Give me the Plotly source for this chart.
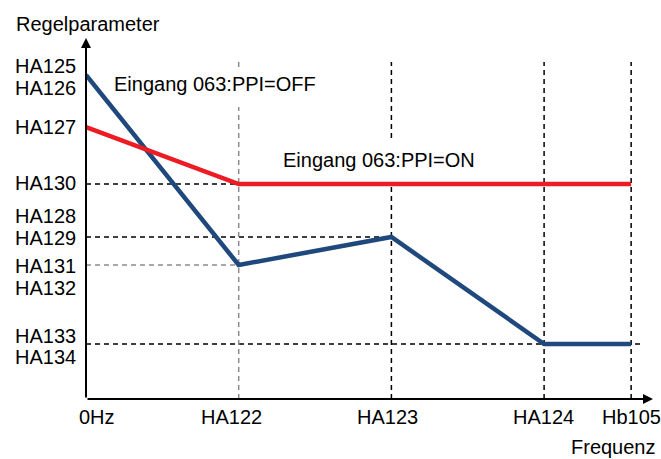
import plotly.graph_objects as go

# Frequency axis: tick names and their positions (in units of the HA122 step)
x_ticks = ["0Hz", "HA122", "HA123", "HA124", "Hb105"]
x_pos = [0, 1, 2, 3, 3.57]

# Control parameter levels (arbitrary units)
y_labels = ["HA125", "HA126", "HA127", "HA130", "HA128", "HA129",
            "HA131", "HA132", "HA133", "HA134"]
y_levels = [324, 324, 272, 215, 162, 162, 134, 134, 55, 55]

# Curve for input 063:PPI=OFF
off_x = [0, 1, 2, 3, 3.57]
off_y = [324, 134, 162, 55, 55]

# Curve for input 063:PPI=ON
on_x = [0, 1, 3.57]
on_y = [272, 215, 215]

BLUE = "#1F497D"
RED = "#ED1C24"
GRAY = "#8C8C8C"
FONT = "Liberation Sans, Arial, sans-serif"

W, H = 661, 459
ML, MB = 86, 60
PX_PER_X = 152.7
x_max = (W - ML) / PX_PER_X
y_max = H - MB
GUIDE_TOP = 337

fig = go.Figure()

# Dashed guide lines
guides_h = [(215, 0, 1, "black"), (162, 0, 2, "black"),
            (134, 0, 1, GRAY), (55, 0, 3.64, "black")]
for lvl, x0, x1, col in guides_h:
    fig.add_shape(type="line", x0=x0, x1=x1, y0=lvl, y1=lvl, layer="below",
                  line=dict(color=col, width=1.5, dash="5px,4px"))

# Vertical guides, interrupted where a curve label sits on them
guides_v = [(1, GRAY, [(0, 292), (332, GUIDE_TOP)]),
            (2, "black", [(0, 217), (261, GUIDE_TOP)]),
            (3, "black", [(0, GUIDE_TOP)]),
            (3.57, "black", [(0, GUIDE_TOP)])]
for xv, col, segs in guides_v:
    for y0, y1 in segs:
        fig.add_shape(type="line", x0=xv, x1=xv, y0=y0, y1=y1, layer="below",
                      line=dict(color=col, width=1.5, dash="5px,4px"))

fig.add_trace(go.Scatter(x=off_x, y=off_y, mode="lines",
                         line=dict(color=BLUE, width=4.5), showlegend=False))
fig.add_trace(go.Scatter(x=on_x, y=on_y, mode="lines",
                         line=dict(color=RED, width=4.5), showlegend=False))

# Axes drawn as arrows
fig.add_annotation(x=3.713, y=0, ax=0, ay=0, xref="x", yref="y", axref="x", ayref="y",
                   text="", showarrow=True, arrowhead=2, arrowsize=1, arrowwidth=2,
                   arrowcolor="black")
fig.add_annotation(x=0, y=361, ax=0, ay=0, xref="x", yref="y", axref="x", ayref="y",
                   text="", showarrow=True, arrowhead=2, arrowsize=1, arrowwidth=2,
                   arrowcolor="black")

# Tick labels on the frequency axis
x_shift = [11, -7, -4, -1, 0]
for name, xp, sh in zip(x_ticks, x_pos, x_shift):
    fig.add_annotation(x=xp, y=0, text=name, showarrow=False, xanchor="center",
                       yanchor="middle", xshift=sh, yshift=-18,
                       font=dict(family=FONT, size=20, color="black"))

# Tick labels on the parameter axis
y_shift = [9, -12.5, 0, 1, 21, -1, -1, -23, 8, -13]
for name, lvl, sh in zip(y_labels, y_levels, y_shift):
    fig.add_annotation(x=0, y=lvl, text=name, showarrow=False, xanchor="right",
                       yanchor="middle", xshift=-8, yshift=sh,
                       font=dict(family=FONT, size=20, color="black"))

# Axis titles
fig.add_annotation(x=0, y=375, text="Regelparameter", showarrow=False,
                   xanchor="left", yanchor="middle", xshift=-72,
                   font=dict(family=FONT, size=20, color="black"))
fig.add_annotation(x=3.746, y=0, text="Frequenz", showarrow=False,
                   xanchor="right", yanchor="middle", yshift=-48,
                   font=dict(family=FONT, size=20, color="black"))

# Curve labels
fig.add_annotation(x=0.177, y=315, text="Eingang 063:PPI=OFF", showarrow=False,
                   xanchor="left", yanchor="middle", xshift=-1,
                   font=dict(family=FONT, size=20, color="black"))
fig.add_annotation(x=1.284, y=239, text="Eingang 063:PPI=ON", showarrow=False,
                   xanchor="left", yanchor="middle", xshift=-1,
                   font=dict(family=FONT, size=20, color="black"))

fig.update_layout(
    width=W, height=H,
    margin=dict(l=ML, r=0, t=0, b=MB),
    paper_bgcolor="white", plot_bgcolor="white",
    xaxis=dict(range=[0, x_max], visible=False, fixedrange=True),
    yaxis=dict(range=[0, y_max], visible=False, fixedrange=True),
)

fig.write_html("out.html")
